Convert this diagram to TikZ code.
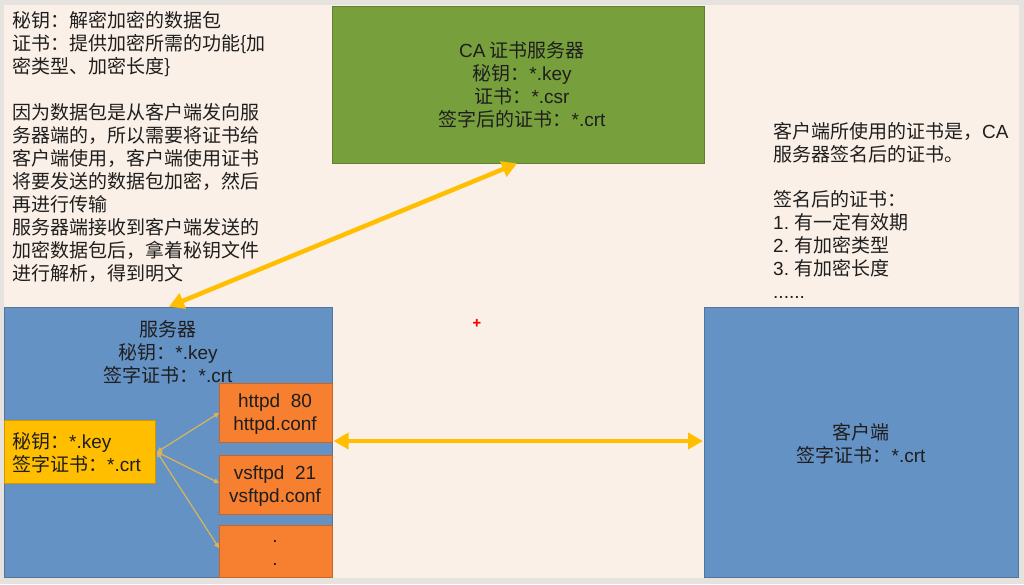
\documentclass[tikz,border=0pt]{standalone}
\usepackage{fontspec}
\setmainfont{Noto Sans CJK SC}
\newfontfamily\lat{Liberation Sans}
\usetikzlibrary{arrows.meta}
\definecolor{pagebg}{HTML}{E6E2DE}
\definecolor{slidebg}{HTML}{FBF0E7}
\definecolor{cagreen}{HTML}{77A03D}
\definecolor{srvblue}{HTML}{6592C4}
\definecolor{keyyellow}{HTML}{FFBF00}
\definecolor{svcorange}{HTML}{F68030}
\definecolor{thinarrow}{HTML}{D9B45A}
\definecolor{txt}{HTML}{1E1E1E}
\tikzset{
  box/.style={draw=#1!80!black, line width=0.6pt, fill=#1, inner sep=0pt, anchor=north west},
  txtstyle/.style={text=txt, font=\fontsize{19}{23}\selectfont, inner sep=0pt},
  bigarrow/.style={draw=keyyellow, line width=4.5pt, {Triangle[length=15pt,width=16pt]}-{Triangle[length=15pt,width=16pt]}, shorten <=1pt, shorten >=1pt},
  smallarrow/.style={draw=thinarrow, line width=1.2pt, {Triangle[length=5pt,width=5pt]}-{Triangle[length=5pt,width=5pt]}},
}
\begin{document}
\begin{tikzpicture}[x=1pt,y=-1pt]
\fill[pagebg] (0,0) rectangle (1024,584);
\fill[slidebg] (4,5) rectangle (1019,578);
\useasboundingbox (0,0) rectangle (1024,584);

% boxes
\node[box=cagreen, minimum width=372pt, minimum height=157pt] (ca) at (332,6) {};
\node[box=srvblue, minimum width=328pt, minimum height=270pt] (srv) at (4,307) {};
\node[box=srvblue, minimum width=314pt, minimum height=270pt] (cli) at (704,307) {};
\node[box=keyyellow, minimum width=151pt, minimum height=63pt] (key) at (4,420) {};
\node[box=svcorange, minimum width=113pt, minimum height=59pt] (s1) at (219,383) {};
\node[box=svcorange, minimum width=113pt, minimum height=59pt] (s2) at (219,455) {};
\node[box=svcorange, minimum width=113pt, minimum height=52pt] (s3) at (219,525) {};

% box texts
\node[txtstyle, align=center] (catext) at (522,85) {{\lat CA} 证书服务器\\秘钥：{\lat *.key}\\证书：{\lat *.csr}\\签字后的证书：{\lat *.crt}};
\node[txtstyle, align=center] (srvtext) at (168,352) {服务器\\秘钥：{\lat *.key}\\签字证书：{\lat *.crt}};
\node[txtstyle, align=center] (clitext) at (861,444) {客户端\\签字证书：{\lat *.crt}};
\node[txtstyle, align=left, anchor=west] (keytext) at (12,453) {秘钥：{\lat *.key}\\签字证书：{\lat *.crt}};
\node[txtstyle, align=center, font=\lat\fontsize{19}{23}\selectfont] (s1text) at (275,414) {httpd\ \ 80\\httpd.conf};
\node[txtstyle, align=center, font=\lat\fontsize{19}{23}\selectfont] (s2text) at (275,486) {vsftpd\ \ 21\\vsftpd.conf};
\node[txtstyle, align=center, font=\lat\fontsize{19}{23}\selectfont] (s3text) at (275,553) {.\\.};

% notes
\node[txtstyle, align=left, anchor=north west] (leftnote) at (12,11) {秘钥：解密加密的数据包\\证书：提供加密所需的功能\{加\\密类型、加密长度\}\\[23pt]因为数据包是从客户端发向服\\务器端的，所以需要将证书给\\客户端使用，客户端使用证书\\将要发送的数据包加密，然后\\再进行传输\\服务器端接收到客户端发送的\\加密数据包后，拿着秘钥文件\\进行解析，得到明文};
\node[txtstyle, align=left, anchor=north west] (rightnote) at (773,122) {客户端所使用的证书是，{\lat CA}\\服务器签名后的证书。\\[22pt]签名后的证书：\\{\lat 1.} 有一定有效期\\{\lat 2.} 有加密类型\\{\lat 3.} 有加密长度\\{\lat ......}};

% red cursor mark
\node[text=red, font=\fontsize{14}{14}\selectfont\bfseries, inner sep=0pt] (cursor) at (477,324) {+};

% connectors
\coordinate (srvtop) at (168,307);
\coordinate (cabot) at (518,163);
\draw[bigarrow] (srvtop) -- (cabot);
\draw[bigarrow] (srv.east |- 0,441) -- (cli.west |- 0,441);
\coordinate (keyR) at (157,452);
\draw[smallarrow] (keyR) -- (s1.west |- 0,413);
\draw[smallarrow] (keyR) -- (s2.west |- 0,483);
\draw[smallarrow] (keyR) -- (s3.west |- 0,548);
\end{tikzpicture}
\end{document}
